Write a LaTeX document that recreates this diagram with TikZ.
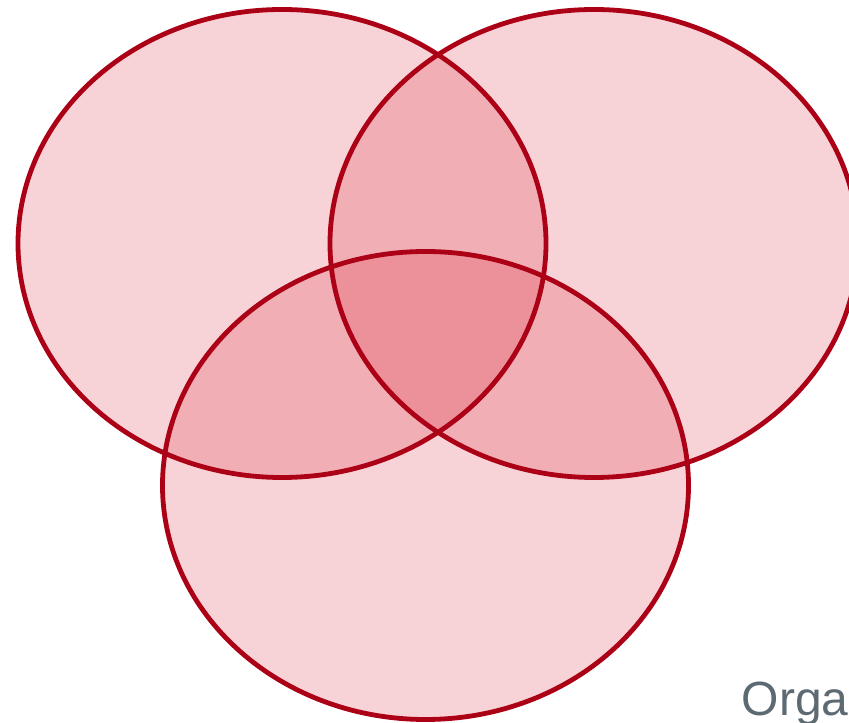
\documentclass[tikz,border=0pt]{standalone}
\usepackage{fontspec}
\newfontfamily\lsans{Liberation Sans}
\definecolor{vfill}{RGB}{214,12,32}
\definecolor{vline}{RGB}{172,0,22}
\definecolor{tgray}{RGB}{94,106,114}
\begin{document}
\begin{tikzpicture}[x=1pt,y=1pt,
  vset/.style={fill=vfill,fill opacity=0.185,draw=none},
  vedge/.style={draw=vline,line width=4.8pt,fill=none}]
\useasboundingbox (0,0) rectangle (849,723);
\clip (0,0) rectangle (849,723);
\coordinate (cl) at (282,479.5);
\coordinate (cr) at (594,479.5);
\coordinate (cb) at (425.5,237.5);
\fill[vset] (cl) ellipse [x radius=264,y radius=234];
\fill[vset] (cr) ellipse [x radius=264,y radius=234];
\fill[vset] (cb) ellipse [x radius=263,y radius=234];
\draw[vedge] (cl) ellipse [x radius=264,y radius=234];
\draw[vedge] (cr) ellipse [x radius=264,y radius=234];
\draw[vedge] (cb) ellipse [x radius=263,y radius=234];
\node[anchor=base west,inner sep=0pt,text=tgray,font=\lsans\fontsize{48}{56}\selectfont] (lbl) at (741.5,7) {Orga};
\end{tikzpicture}
\end{document}
